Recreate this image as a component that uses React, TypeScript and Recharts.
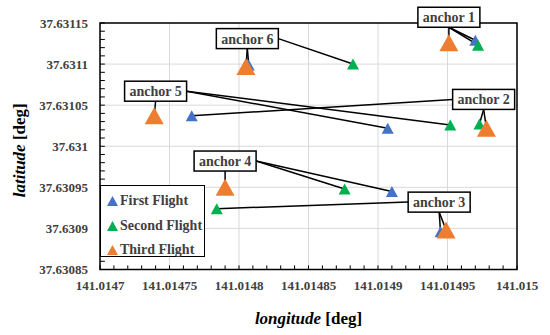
import {
  CartesianGrid,
  Legend,
  ReferenceArea,
  ReferenceDot,
  ReferenceLine,
  Scatter,
  ScatterChart,
  XAxis,
  YAxis,
} from "recharts";

const ANCHORS = ["anchor 1", "anchor 2", "anchor 3", "anchor 4", "anchor 5", "anchor 6"];

// first flight (blue)
const FIRST_LON = [141.01497, 141.014766, 141.014945, 141.01491, 141.014907, 141.014807];
const FIRST_LAT = [37.631129, 37.631037, 37.630896, 37.630945, 37.631022, 37.631099];
// second flight (green)
const SECOND_LON = [141.014972, 141.014973, 141.014784, 141.014876, 141.014952, 141.014882];
const SECOND_LAT = [37.631123, 37.631027, 37.630924, 37.630948, 37.631026, 37.6311];
// third flight (orange)
const THIRD_LON = [141.014951, 141.014978, 141.014949, 141.01479, 141.014739, 141.014805];
const THIRD_LAT = [37.631126, 37.631022, 37.630898, 37.63095, 37.631037, 37.631097];
// where the anchor callouts sit
const LABEL_LON = [141.014951, 141.014976, 141.014944, 141.01479, 141.01474, 141.014806];
const LABEL_LAT = [37.631157, 37.631057, 37.630932, 37.630982, 37.631067, 37.631131];

const X_TICKS = [141.0147, 141.01475, 141.0148, 141.01485, 141.0149, 141.01495, 141.015];
const Y_TICKS = [37.63085, 37.6309, 37.63095, 37.631, 37.63105, 37.6311, 37.63115];

const SERIES = [
  { name: "First Flight", color: "#4472C4", lon: FIRST_LON, lat: FIRST_LAT, w: 12, h: 11 },
  { name: "Second Flight", color: "#00B050", lon: SECOND_LON, lat: SECOND_LAT, w: 12, h: 11 },
  { name: "Third Flight", color: "#ED7D31", lon: THIRD_LON, lat: THIRD_LAT, w: 19, h: 17 },
];

const TICK_FONT = "Times New Roman";
const BOX_FONT = "Times New Roman";
const LEGEND_FONT = "Times New Roman";
const TITLE_FONT = "serif";
const TEXT_GRAY = "#404040";
const BOX_W = 62;
const BOX_H = 20;

// minor ticks: every fifth of a major step, drawn inward
function subdivide(ticks: number[]) {
  const out: number[] = [];
  for (let i = 0; i < ticks.length - 1; i++) {
    for (let k = 0; k < 5; k++) out.push(ticks[i] + ((ticks[i + 1] - ticks[i]) * k) / 5);
  }
  out.push(ticks[ticks.length - 1]);
  return out;
}
const X_MINOR = subdivide(X_TICKS);
const Y_MINOR = subdivide(Y_TICKS);
const TICK_LAT = 0.000005;
const TICK_LON = 0.0000035;

function triangle(color: string, w: number, h: number) {
  return (props: any) => {
    const { cx, cy } = props;
    if (cx == null || cy == null) return <g />;
    return (
      <polygon
        points={`${cx},${cy - h / 2} ${cx + w / 2},${cy + h / 2} ${cx - w / 2},${cy + h / 2}`}
        fill={color}
      />
    );
  };
}

// leader from the callout box edge to the point
function leader(props: any) {
  const { x1, y1, x2, y2 } = props;
  const dx = x2 - x1;
  let sx = x1;
  let sy = y1 + BOX_H / 2;
  if (Math.abs(dx) > BOX_W / 2 + 2) {
    sx = x1 + Math.sign(dx) * (BOX_W / 2);
    sy = y1;
  }
  return <line x1={sx} y1={sy} x2={x2} y2={y2} stroke="#000" strokeWidth={1.5} />;
}

function callout(text: string) {
  return (props: any) => {
    const { cx, cy } = props;
    return (
      <g>
        <rect
          x={cx - BOX_W / 2}
          y={cy - BOX_H / 2}
          width={BOX_W}
          height={BOX_H}
          fill="#fff"
          stroke="#000"
          strokeWidth={1.5}
        />
        <text
          x={cx}
          y={cy + 5}
          textAnchor="middle"
          style={{ fontFamily: BOX_FONT, fontWeight: 700, fontSize: 14 }}
          fill={TEXT_GRAY}
        >
          {text}
        </text>
      </g>
    );
  };
}

function XTitle(props: any) {
  const { x, y, width } = props.viewBox;
  return (
    <text x={x + width / 2} y={y + 54} textAnchor="middle" fill="#000">
      <tspan style={{ fontFamily: TITLE_FONT, fontStyle: "italic", fontWeight: 700, fontSize: 17 }}>
        longitude
      </tspan>
      <tspan style={{ fontFamily: TITLE_FONT, fontWeight: 700, fontSize: 17 }}>{" [deg]"}</tspan>
    </text>
  );
}

function YTitle(props: any) {
  const { y, height } = props.viewBox;
  const cy = y + height / 2 + 4;
  return (
    <text x={25} y={cy} textAnchor="middle" fill="#000" transform={`rotate(-90, 25, ${cy})`}>
      <tspan style={{ fontFamily: "Liberation Serif", fontStyle: "italic", fontWeight: 700, fontSize: 17 }}>
        latitude
      </tspan>
      <tspan style={{ fontFamily: "Liberation Serif", fontWeight: 700, fontSize: 17 }}>{" [deg]"}</tspan>
    </text>
  );
}

function LegendBox() {
  return (
    <div
      style={{
        width: 105,
        height: 72,
        border: "1.5px solid #000",
        background: "#fff",
        padding: "3px 0 0 6px",
        boxSizing: "border-box",
      }}
    >
      {SERIES.map((s) => (
        <div
          key={s.name}
          style={{
            display: "flex",
            alignItems: "center",
            height: 24.5,
            fontFamily: LEGEND_FONT,
            fontWeight: 700,
            fontSize: 14,
            color: TEXT_GRAY,
            whiteSpace: "nowrap",
          }}
        >
          <svg width={11} height={10} style={{ marginRight: 2 }}>
            <polygon points="5.5,0 11,10 0,10" fill={s.color} />
          </svg>
          {s.name}
        </div>
      ))}
    </div>
  );
}

const tickStyle = {
  fontSize: 13,
  fill: TEXT_GRAY,
  style: { fontFamily: TICK_FONT, fontWeight: 700, fontSize: 13 },
};

export default function App() {
  const xMin = X_TICKS[0];
  const yMin = Y_TICKS[0];
  return (
    <div style={{ position: "absolute", left: 0, top: 0, background: "#fff" }}>
      <ScatterChart width={550} height={335} margin={{ top: 23, right: 33, bottom: 0, left: 0 }}>
        <CartesianGrid stroke="#d9d9d9" strokeWidth={1} />
        <XAxis
          type="number"
          dataKey="x"
          domain={[X_TICKS[0], X_TICKS[X_TICKS.length - 1]]}
          ticks={X_TICKS}
          allowDataOverflow
          height={65.5}
          tickLine={false}
          axisLine={false}
          tickSize={0}
          tickMargin={11}
          tick={tickStyle}
          tickFormatter={(v) => String(v)}
          label={(p: any) => <XTitle {...p} />}
        />
        <YAxis
          type="number"
          dataKey="y"
          domain={[Y_TICKS[0], Y_TICKS[Y_TICKS.length - 1]]}
          ticks={Y_TICKS}
          allowDataOverflow
          width={100}
          tickLine={false}
          axisLine={false}
          tickSize={0}
          tickMargin={12}
          tick={tickStyle}
          tickFormatter={(v) => String(v)}
          label={(p: any) => <YTitle {...p} />}
        />
        {X_MINOR.map((x) => (
          <ReferenceLine
            key={`xt${x}`}
            segment={[
              { x, y: yMin },
              { x, y: yMin + TICK_LAT },
            ]}
            stroke="#000"
            strokeWidth={1}
          />
        ))}
        {Y_MINOR.map((y) => (
          <ReferenceLine
            key={`yt${y}`}
            segment={[
              { x: xMin, y },
              { x: xMin + TICK_LON, y },
            ]}
            stroke="#000"
            strokeWidth={1}
          />
        ))}
        <ReferenceArea
          x1={X_TICKS[0]}
          x2={X_TICKS[X_TICKS.length - 1]}
          y1={Y_TICKS[0]}
          y2={Y_TICKS[Y_TICKS.length - 1]}
          fill="none"
          stroke="#000"
          strokeWidth={1.5}
          ifOverflow="visible"
        />
        {SERIES.map((s) => (
          <Scatter
            key={s.name}
            name={s.name}
            data={s.lon.map((x, i) => ({ x, y: s.lat[i] }))}
            fill={s.color}
            shape={triangle(s.color, s.w, s.h)}
            isAnimationActive={false}
          />
        ))}
        {ANCHORS.map((a, i) =>
          SERIES.map((s) => (
            <ReferenceLine
              key={`${a}-${s.name}`}
              segment={[
                { x: LABEL_LON[i], y: LABEL_LAT[i] },
                { x: s.lon[i], y: s.lat[i] },
              ]}
              ifOverflow="visible"
              shape={leader}
            />
          ))
        )}
        {ANCHORS.map((a, i) => (
          <ReferenceDot
            key={a}
            x={LABEL_LON[i]}
            y={LABEL_LAT[i]}
            ifOverflow="visible"
            shape={callout(a)}
          />
        ))}
        <Legend
          layout="vertical"
          align="center"
          verticalAlign="middle"
          content={() => <LegendBox />}
          wrapperStyle={{ position: "absolute", left: 100, top: 185, width: 105, height: 72 }}
        />
      </ScatterChart>
    </div>
  );
}
